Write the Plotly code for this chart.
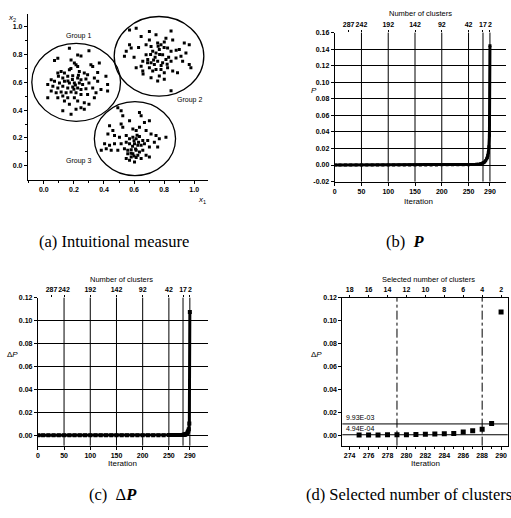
import plotly.graph_objects as go

W, H = 511, 518

# ---------------- Panel (a): three groups of points ----------------
group1 = [(0.17,0.844),(0.30,0.827),(0.225,0.797),(0.247,0.79),(0.093,0.773),(0.071,0.757),
          (0.181,0.761),(0.203,0.738),(0.214,0.726),(0.225,0.714),(0.313,0.726),(0.325,0.714),
          (0.369,0.738),(0.17,0.69),(0.115,0.678),(0.137,0.667),(0.236,0.678),(0.269,0.667),
          (0.291,0.655),(0.358,0.671),(0.413,0.643),(0.097,0.643),(0.126,0.631),(0.159,0.643),
          (0.192,0.648),(0.225,0.631),(0.247,0.619),(0.28,0.624),(0.336,0.631),(0.049,0.619),
          (0.071,0.608),(0.104,0.596),(0.137,0.608),(0.17,0.596),(0.203,0.596),(0.236,0.596),
          (0.258,0.584),(0.30,0.596),(0.358,0.608),(0.026,0.584),(0.06,0.572),(0.093,0.56),
          (0.126,0.572),(0.159,0.56),(0.192,0.567),(0.225,0.56),(0.247,0.548),(0.28,0.553),
          (0.325,0.56),(0.38,0.548),(0.424,0.537),(0.049,0.537),(0.082,0.525),(0.115,0.53),
          (0.148,0.525),(0.181,0.53),(0.214,0.525),(0.247,0.513),(0.291,0.513),(0.347,0.525),
          (0.026,0.489),(0.093,0.489),(0.126,0.501),(0.159,0.489),(0.203,0.489),(0.336,0.489),
          (0.225,0.466),(0.269,0.454),(0.137,0.466),(0.17,0.442),(0.30,0.442),(0.247,0.418),
          (0.214,0.407),(0.126,0.395),(0.181,0.371),(0.269,0.407),(0.093,0.667),(0.424,0.584),
          (0.19,0.62),(0.21,0.58),(0.16,0.61),(0.23,0.65),(0.2,0.55),(0.18,0.7)]
group2 = [(0.57,0.976),(0.614,0.988),(0.702,0.965),(0.846,0.969),(0.647,0.929),(0.746,0.941),
          (0.812,0.917),(0.857,0.905),(0.801,0.889),(0.702,0.905),(0.57,0.87),(0.548,0.823),
          (0.536,0.787),(0.581,0.846),(0.68,0.87),(0.713,0.858),(0.757,0.882),(0.779,0.87),
          (0.724,0.823),(0.746,0.811),(0.768,0.835),(0.79,0.799),(0.823,0.846),(0.846,0.823),
          (0.901,0.835),(0.934,0.882),(0.967,0.87),(0.945,0.811),(0.912,0.787),(0.879,0.775),
          (0.68,0.799),(0.658,0.752),(0.647,0.716),(0.691,0.764),(0.713,0.74),(0.735,0.728),
          (0.757,0.752),(0.79,0.74),(0.812,0.764),(0.846,0.752),(0.702,0.704),(0.724,0.681),
          (0.746,0.693),(0.779,0.693),(0.801,0.669),(0.823,0.704),(0.768,0.645),(0.713,0.633),
          (0.757,0.61),(0.801,0.622),(0.857,0.681),(0.889,0.669),(0.967,0.728),(0.978,0.704),
          (0.923,0.752),(0.846,0.539),(0.658,0.681),(0.614,0.704),(0.74,0.78),(0.77,0.80),
          (0.80,0.85),(0.73,0.76),(0.78,0.72),(0.83,0.78),(0.71,0.80),(0.76,0.86),(0.69,0.74),
          (0.82,0.73),(0.88,0.83),(0.60,0.78),(0.63,0.85),(0.66,0.66)]
group3 = [(0.492,0.418),(0.514,0.395),(0.525,0.359),(0.636,0.383),(0.647,0.359),(0.669,0.312),
          (0.702,0.324),(0.57,0.324),(0.514,0.3),(0.437,0.288),(0.459,0.253),(0.525,0.277),
          (0.592,0.265),(0.614,0.253),(0.636,0.277),(0.68,0.253),(0.713,0.229),(0.746,0.217),
          (0.768,0.194),(0.812,0.206),(0.426,0.229),(0.47,0.217),(0.503,0.206),(0.548,0.217),
          (0.57,0.194),(0.592,0.206),(0.614,0.194),(0.636,0.21),(0.658,0.182),(0.691,0.182),
          (0.735,0.17),(0.404,0.158),(0.437,0.147),(0.47,0.158),(0.514,0.158),(0.548,0.17),
          (0.57,0.158),(0.603,0.158),(0.625,0.147),(0.647,0.147),(0.669,0.158),(0.702,0.135),
          (0.757,0.135),(0.382,0.111),(0.415,0.123),(0.448,0.111),(0.492,0.111),(0.536,0.123),
          (0.558,0.111),(0.581,0.116),(0.614,0.111),(0.636,0.099),(0.658,0.111),(0.558,0.087),
          (0.592,0.087),(0.625,0.076),(0.581,0.064),(0.614,0.059),(0.647,0.052),(0.68,0.076),
          (0.702,0.064),(0.548,0.052),(0.57,0.04),(0.603,0.028),(0.60,0.18),(0.62,0.22),
          (0.59,0.14),(0.61,0.12),(0.63,0.17),(0.58,0.09),(0.60,0.07)]
group_names = ["Group 1", "Group 2", "Group 3"]
group_label_x = [0.23, 0.97, 0.23]
group_label_y = [0.93, 0.47, 0.035]
circle_cx = [0.215, 0.766, 0.606]
circle_cy = [0.600, 0.787, 0.195]
circle_rx = [0.295, 0.298, 0.270]
circle_ry = [0.280, 0.286, 0.266]
a_ticks = [0.0, 0.2, 0.4, 0.6, 0.8, 1.0]
a_ticklabels = ["0.0", "0.2", "0.4", "0.6", "0.8", "1.0"]

# ---------------- Panel (b): P vs iteration ----------------
P_iter = [1, 10, 20, 30, 40, 50, 60, 70, 80, 90, 100, 110, 120, 130, 140, 150, 160, 170, 180,
          190, 200, 210, 220, 230, 240, 250, 255, 260, 265, 270, 273, 276, 278, 280, 282, 284,
          285, 286, 287, 288, 289, 290]
P_val = [0.0, 0.0, 0.0, 0.0, 0.0, 0.0, 0.0, 0.0, 0.0, 0.0, 0.0, 0.0, 0.0, 0.0001, 0.0001, 0.0001,
         0.0001, 0.0001, 0.0001, 0.0001, 0.0002, 0.0002, 0.0002, 0.0003, 0.0003, 0.0004, 0.0005,
         0.0006, 0.0008, 0.001, 0.0014, 0.002, 0.0027, 0.0037, 0.0052, 0.0075, 0.009, 0.0115,
         0.015, 0.022, 0.036, 0.144]

# ---------------- Panels (c) and (d): delta P vs iteration ----------------
dP_iter = [1, 10, 20, 30, 40, 50, 60, 70, 80, 90, 100, 110, 120, 130, 140, 150, 160, 170, 180,
           190, 200, 210, 220, 230, 240, 250, 255, 260, 265, 270, 272, 274, 275, 276, 277, 278,
           279, 280, 281, 282, 283, 284, 285, 286, 287, 288, 289, 290]
dP_val = [0.0, 0.0, 0.0, 0.0, 0.0, 0.0, 0.0, 0.0, 0.0, 0.0, 0.0, 0.0, 0.0, 0.0, 0.0, 0.0, 0.0,
          0.0001, 0.0001, 0.0001, 0.0001, 0.0001, 0.0001, 0.0001, 0.0001, 0.0002, 0.0002, 0.0002,
          0.0002, 0.0003, 0.0003, 0.0003, 0.0003, 0.0003, 0.0003, 0.0004, 0.000494, 0.0006,
          0.0008, 0.0010, 0.0011, 0.0013, 0.0016, 0.0030, 0.0040, 0.0054, 0.0103, 0.1075]

iter_ticks = [0, 50, 100, 150, 200, 250, 290]
clusters_tick_iter = [26, 50, 100, 150, 200, 250, 277, 290]
clusters_tick_label = ["287", "242", "192", "142", "92", "42", "17", "2"]
b_yticks = [-0.02, 0.0, 0.02, 0.04, 0.06, 0.08, 0.10, 0.12, 0.14, 0.16]
b_ylabels = ["-0.02", "0.00", "0.02", "0.04", "0.06", "0.08", "0.10", "0.12", "0.14", "0.16"]
c_yticks = [0.0, 0.02, 0.04, 0.06, 0.08, 0.10, 0.12]
c_ylabels = ["0.00", "0.02", "0.04", "0.06", "0.08", "0.10", "0.12"]

d_first_iter = 275
d_xticks = [274, 276, 278, 280, 282, 284, 286, 288, 290]
d_xlabels = ["274", "276", "278", "280", "282", "284", "286", "288", "290"]
sel_tick_iter = [274, 276, 278, 280, 282, 284, 286, 288, 290]
sel_tick_label = ["18", "16", "14", "12", "10", "8", "6", "4", "2"]
selected_iters = [279, 288]
threshold_vals = [0.00993, 0.000494]
threshold_text = ["9.93E-03", "4.94E-04"]

# ---------------- helpers for layout (pixel boxes -> paper) ----------------
def xd(p0, p1):
    return [p0 / W, p1 / W]

def yd(top, bottom):
    return [1 - bottom / H, 1 - top / H]

def px(x):
    return x / W

def py(y):
    return 1 - y / H

TICKFONT = dict(family="Liberation Sans", size=7, color="black", weight="bold")
base_axis = dict(showline=True, linecolor="black", linewidth=1, ticks="outside", ticklen=3,
                 tickwidth=1, tickcolor="black", tickfont=TICKFONT, zeroline=False,
                 showgrid=False, fixedrange=True, tickangle=0)

fig = go.Figure()
sq = dict(symbol="square", color="black")

# Panel a
for g in (group1, group2, group3):
    fig.add_trace(go.Scatter(x=[p[0] for p in g], y=[p[1] for p in g], mode="markers",
                             marker=dict(size=3, **sq), xaxis="x", yaxis="y",
                             showlegend=False, hoverinfo="skip"))

# Panel b
fig.add_trace(go.Scatter(x=P_iter, y=P_val, mode="lines+markers", line=dict(color="black", width=3),
                         marker=dict(size=3, **sq), xaxis="x2", yaxis="y2", showlegend=False))
# Panel c
fig.add_trace(go.Scatter(x=dP_iter, y=dP_val, mode="lines+markers", line=dict(color="black", width=3),
                         marker=dict(size=4, **sq), xaxis="x3", yaxis="y3", showlegend=False))
# Panel d
d_x = [i for i in dP_iter if i >= d_first_iter]
d_y = [v for i, v in zip(dP_iter, dP_val) if i >= d_first_iter]
fig.add_trace(go.Scatter(x=d_x, y=d_y, mode="markers", marker=dict(size=5, **sq),
                         xaxis="x4", yaxis="y4", showlegend=False))
# dummy traces to carry the top axes
for xa, ya, xr in (("x5", "y2", [0, 320]), ("x6", "y3", [0, 325]), ("x7", "y4", [273.23, 290.7])):
    fig.add_trace(go.Scatter(x=xr, y=[None, None], xaxis=xa, yaxis=ya, showlegend=False,
                             hoverinfo="skip"))

shapes = []
for cx, cy, rx, ry in zip(circle_cx, circle_cy, circle_rx, circle_ry):
    shapes.append(dict(type="circle", xref="x", yref="y", x0=cx - rx, x1=cx + rx,
                       y0=cy - ry, y1=cy + ry, line=dict(color="black", width=1.3)))
for xa, ya in (("x2", "y2"), ("x3", "y3")):
    for it in clusters_tick_iter[1:]:
        shapes.append(dict(type="line", xref=xa, yref=ya + " domain", x0=it, x1=it, y0=0, y1=1,
                           line=dict(color="black", width=1), layer="below"))
for it in selected_iters:
    shapes.append(dict(type="line", xref="x4", yref="y4 domain", x0=it, x1=it, y0=0, y1=1,
                       line=dict(color="black", width=1, dash="dashdot")))
for v in threshold_vals:
    shapes.append(dict(type="line", xref="x4 domain", yref="y4", x0=0, x1=1, y0=v, y1=v,
                       line=dict(color="black", width=1)))

ann = []
SMALL = dict(family="Liberation Sans", size=7, color="black")
for name, gx, gy in zip(group_names, group_label_x, group_label_y):
    ann.append(dict(text=name, x=gx, y=gy, xref="x", yref="y", showarrow=False, font=SMALL))
for t, v in zip(threshold_text, threshold_vals):
    ann.append(dict(text=t, x=273.4, y=v, xref="x4", yref="y4", showarrow=False, xanchor="left",
                    yanchor="bottom", yshift=1, font=SMALL))

def pann(text, x, y, size=7, family="Liberation Sans", xanchor="center", italic=False):
    ann.append(dict(text=text, x=px(x), y=py(y), xref="paper", yref="paper", showarrow=False,
                    xanchor=xanchor, yanchor="middle",
                    font=dict(family=family, size=size, color="black",
                              style="italic" if italic else "normal")))

# axis titles
pann("<i>x</i><sub>1</sub>", 201, 199, size=8)
pann("<i>x</i><sub>2</sub>", 10, 14, size=8)
pann("Number of clusters", 420, 10, size=7.5)
pann("Iteration", 418, 200, size=8)
pann("<i>P</i>", 313, 88, size=8)
pann("Number of clusters", 120, 279, size=7.5)
pann("Iteration", 121, 466, size=8)
pann("Δ<i>P</i>", 11, 355, size=8)
pann("Selected number of clusters", 428, 279, size=7.5)
pann("Iteration", 425, 466, size=8)
pann("Δ<i>P</i>", 316, 355, size=8)
# captions
CAP = "Liberation Serif"
pann("(a) Intuitional measure", 35, 241, size=16.5, family=CAP, xanchor="left")
pann("(b)  <b><i>P</i></b>", 383, 241, size=16.5, family=CAP, xanchor="left")
pann("(c)  Δ<b><i>P</i></b>", 85, 497, size=16.5, family=CAP, xanchor="left")
pann("(d) Selected number of clusters", 303, 497, size=16.5, family=CAP, xanchor="left")

grid_y = dict(showgrid=True, gridcolor="black", gridwidth=1)

fig.update_layout(
    width=W, height=H, margin=dict(l=0, r=0, t=0, b=0),
    paper_bgcolor="white", plot_bgcolor="white", showlegend=False,
    shapes=shapes, annotations=ann,
    xaxis=dict(base_axis, domain=xd(26, 207), range=[-0.106, 1.093], anchor="y",
               tickvals=a_ticks, ticktext=a_ticklabels,
               minor=dict(ticks="outside", ticklen=2, dtick=0.1, tick0=0, tickcolor="black")),
    yaxis=dict(base_axis, domain=yd(10, 178), range=[-0.099, 1.092], anchor="x",
               tickvals=a_ticks, ticktext=a_ticklabels,
               minor=dict(ticks="outside", ticklen=2, dtick=0.1, tick0=0, tickcolor="black")),
    xaxis2=dict(base_axis, domain=xd(334, 506), range=[0, 320], anchor="y2",
                tickvals=iter_ticks, ticktext=[str(t) for t in iter_ticks]),
    yaxis2=dict(base_axis, **grid_y, domain=yd(29, 180), range=[-0.02, 0.16], anchor="x2",
                tickvals=b_yticks, ticktext=b_ylabels),
    xaxis5=dict(base_axis, overlaying="x2", side="top", anchor="y2", range=[0, 320],
                tickvals=clusters_tick_iter, ticktext=clusters_tick_label, showline=False,
                ticklen=2),
    xaxis3=dict(base_axis, domain=xd(36, 207), range=[0, 325], anchor="y3",
                tickvals=iter_ticks, ticktext=[str(t) for t in iter_ticks]),
    yaxis3=dict(base_axis, **grid_y, domain=yd(297.7, 447.7), range=[-0.009, 0.12], anchor="x3",
                tickvals=c_yticks, ticktext=c_ylabels),
    xaxis6=dict(base_axis, overlaying="x3", side="top", anchor="y3", range=[0, 325],
                tickvals=clusters_tick_iter, ticktext=clusters_tick_label, showline=False,
                ticklen=2),
    xaxis4=dict(base_axis, domain=xd(341.7, 507.7), range=[273.23, 290.7], anchor="y4",
                tickvals=d_xticks, ticktext=d_xlabels,
                minor=dict(ticks="outside", ticklen=2, dtick=1, tick0=274, tickcolor="black")),
    yaxis4=dict(base_axis, domain=yd(297.7, 447.7), range=[-0.009, 0.12], anchor="x4",
                tickvals=c_yticks, ticktext=c_ylabels, mirror=True),
    xaxis7=dict(base_axis, overlaying="x4", side="top", anchor="y4", range=[273.23, 290.7],
                tickvals=sel_tick_iter, ticktext=sel_tick_label, ticklen=2),
)

fig.write_html("out.html", config={"displayModeBar": False},
               post_script="document.body.style.margin='0';document.body.style.overflow='hidden';")
